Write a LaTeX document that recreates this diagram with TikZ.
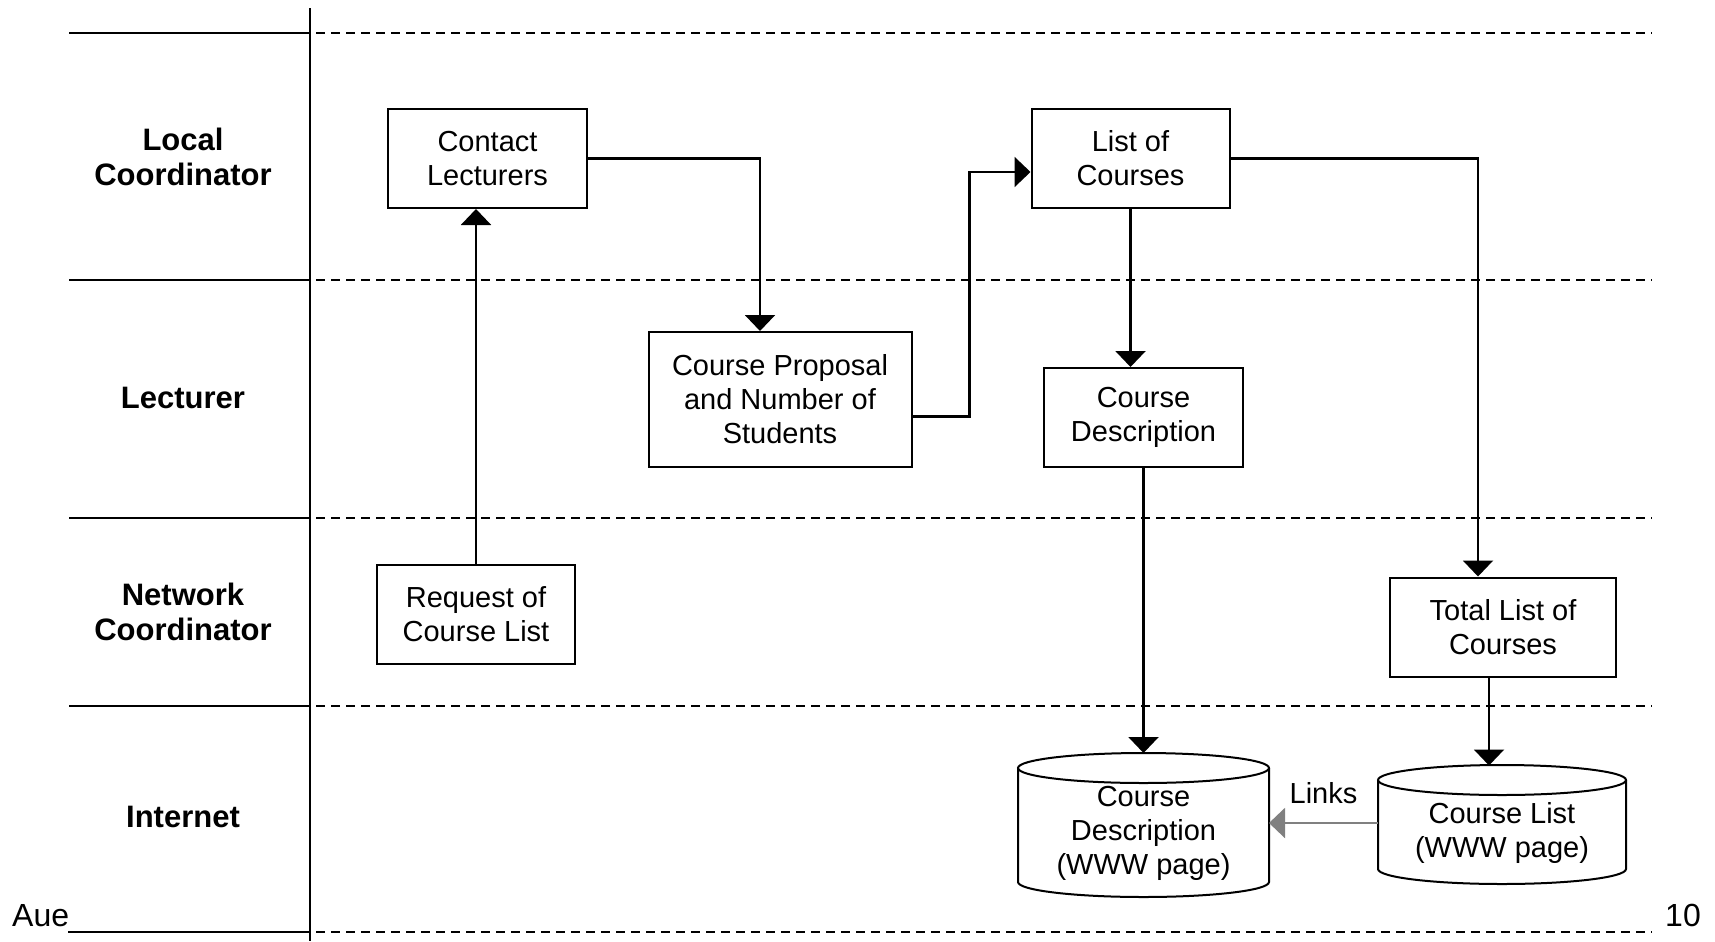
\documentclass[tikz,border=0pt]{standalone}
\usepackage{fontspec}
\setmainfont{Liberation Sans}
\usepackage{tikz}
\usetikzlibrary{arrows.meta,positioning,calc}
\definecolor{linkgray}{RGB}{128,128,128}
\tikzset{
  lane/.style={font=\fontsize{31bp}{35bp}\selectfont\bfseries, align=center},
  task/.style={draw, line width=2bp, align=center, inner sep=0pt, font=\fontsize{29bp}{34bp}\selectfont},
  webtext/.style={align=center, inner sep=0pt, font=\fontsize{29bp}{34bp}\selectfont},
  flow/.style={line width=2.2bp, -{Triangle[width=30bp,length=16bp]}},
  link/.style={line width=2.2bp, -{Triangle[width=30bp,length=16bp]}, linkgray},
  sep/.style={line width=2bp},
  sepdash/.style={line width=2bp, dash pattern=on 9bp off 6bp, dash phase=9bp},
}

\begin{document}
\begin{tikzpicture}[x=1bp, y=-1bp]
    \useasboundingbox (0,0) rectangle (1715,941);
    % swimlanes
    \draw[sep] (310,8) -- (310,941);
    \foreach \y in {33,280,518,706} {
        \draw[sep] (69,\y) -- (310,\y);
        \draw[sepdash] (310,\y) -- (1652,\y);
    }
    \draw[sep] (68,932) -- (310,932);
    \draw[sepdash] (310,932) -- (1652,932);
    \node[lane] (lc) at (183,157) {Local\\Coordinator};
    \node[lane] (lect) at (183,398) {Lecturer};
    \node[lane] (nc) at (183,612) {Network\\Coordinator};
    \node[lane] (inet) at (183,817) {Internet};

    % tasks
    \node[task, minimum width=199bp, minimum height=99bp] (con) at (487.5,158.5) {Contact\\Lecturers};
    \node[task, minimum width=198bp, minimum height=99bp] (loc) at (1130.5,158.5) {List of\\Courses};
    \node[task, minimum width=263bp, minimum height=135bp] (prop) at (780,399.5) {Course Proposal\\and Number of\\Students};
    \node[task, minimum width=199bp, minimum height=99bp] (cdesc) at (1143.5,417.5) {Course\\Description};
    \node[task, minimum width=198bp, minimum height=99bp] (req) at (476,614.5) {Request of\\Course List};
    \node[task, minimum width=226bp, minimum height=99bp] (total) at (1503,627) {Total List of\\Courses};

    % web pages
    \draw[sep] (1018,768) -- (1018,882) arc[start angle=180, end angle=360, x radius=125.5bp, y radius=15bp] -- (1269,768);
    \draw[sep] (1143.5,768) ellipse [x radius=125.5bp, y radius=15bp];
    \node[webtext] (cdweb) at (1143.5,833) {Course\\Description\\(WWW page)};
    \coordinate (cdtop) at (1143.5,753);
    \coordinate (cdside) at (1269,823);
    \draw[sep] (1378,780) -- (1378,869) arc[start angle=180, end angle=360, x radius=124bp, y radius=15bp] -- (1626,780);
    \draw[sep] (1502,780) ellipse [x radius=124bp, y radius=15bp];
    \node[webtext] (clweb) at (1502,833) {Course List\\(WWW page)};
    \coordinate (cltop) at (1489,765.5);
    \coordinate (clside) at (1378,823);

    % flows
    \draw[flow] (req.north) -- (req.north |- con.south);
    \draw[flow] (con.east) -| ($(prop.north)+(-20,0)$);
    \draw[flow] ($(prop.east)+(0,17)$) -- ++(57,0) |- ($(loc.west)+(0,13.5)$);
    \draw[flow] (loc.south) -- (loc.south |- cdesc.north);
    \draw[flow] (cdesc.south) -- (cdtop);
    \draw[flow] (loc.east) -| ($(total.north)+(-25,0)$);
    \draw[flow] ($(total.south)+(-14,0)$) -- (cltop);
    \draw[link] (clside) -- node[above=18bp, inner sep=0pt, text=black, font=\fontsize{29bp}{34bp}\selectfont] (lnk) {Links} (cdside);

    \node[anchor=base west, inner sep=0pt, font=\fontsize{32bp}{36bp}\selectfont] (aue) at (12,926) {Aue};
    \node[anchor=base east, inner sep=0pt, font=\fontsize{32bp}{36bp}\selectfont] (pagenum) at (1701,926) {10};
\end{tikzpicture}
\end{document}
